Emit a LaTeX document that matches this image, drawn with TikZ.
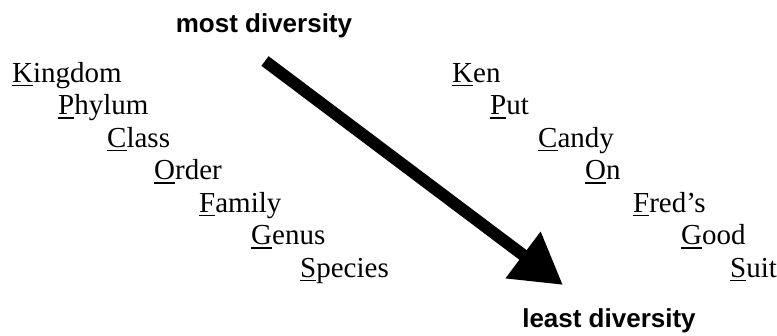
\documentclass[tikz,border=0pt]{standalone}
\usepackage{fontspec}
\setmainfont{Liberation Serif}
\setsansfont{Liberation Sans}
\usetikzlibrary{arrows.meta}
\newcommand{\ulfirst}[1]{\leavevmode\setbox0\hbox{#1}\rlap{\rule[-4pt]{\wd0}{1.5pt}}\box0}
\tikzset{
  word/.style={anchor=base west, inner sep=0pt, font=\fontsize{29}{32}\selectfont\rmfamily},
  heading/.style={anchor=base, inner sep=0pt, font=\fontsize{26}{30}\selectfont\sffamily\bfseries},
  bigarrow/.style={line width=12pt, -{Triangle[length=50pt,width=55pt]}}
}
\begin{document}
\begin{tikzpicture}[x=1pt,y=-1pt]
\useasboundingbox[fill=white] (0,0) rectangle (777,335);
\node[heading] (most) at (264,32) {most diversity};
\node[heading] (least) at (609,327) {least diversity};
% left column
\node[word] (k1) at (12,82) {\ulfirst{K}ingdom};
\node[word] (p1) at (58,114.5) {\ulfirst{P}hylum};
\node[word] (c1) at (107,147) {\ulfirst{C}lass};
\node[word] (o1) at (154,179.5) {\ulfirst{O}rder};
\node[word] (f1) at (199,212) {\ulfirst{F}amily};
\node[word] (g1) at (251,244.5) {\ulfirst{G}enus};
\node[word] (s1) at (300,277) {\ulfirst{S}pecies};
% right column
\node[word] (k2) at (452,82) {\ulfirst{K}en};
\node[word] (p2) at (490,114.5) {\ulfirst{P}ut};
\node[word] (c2) at (538,147) {\ulfirst{C}andy};
\node[word] (o2) at (585,179.5) {\ulfirst{O}n};
\node[word] (f2) at (633,212) {\ulfirst{F}red’s};
\node[word] (g2) at (681,244.5) {\ulfirst{G}ood};
\node[word] (s2) at (730,277) {\ulfirst{S}uit};
% arrow
\coordinate (as) at (265,61);
\coordinate (at) at (563,285);
\draw[bigarrow] (as) -- (at);
\end{tikzpicture}
\end{document}
